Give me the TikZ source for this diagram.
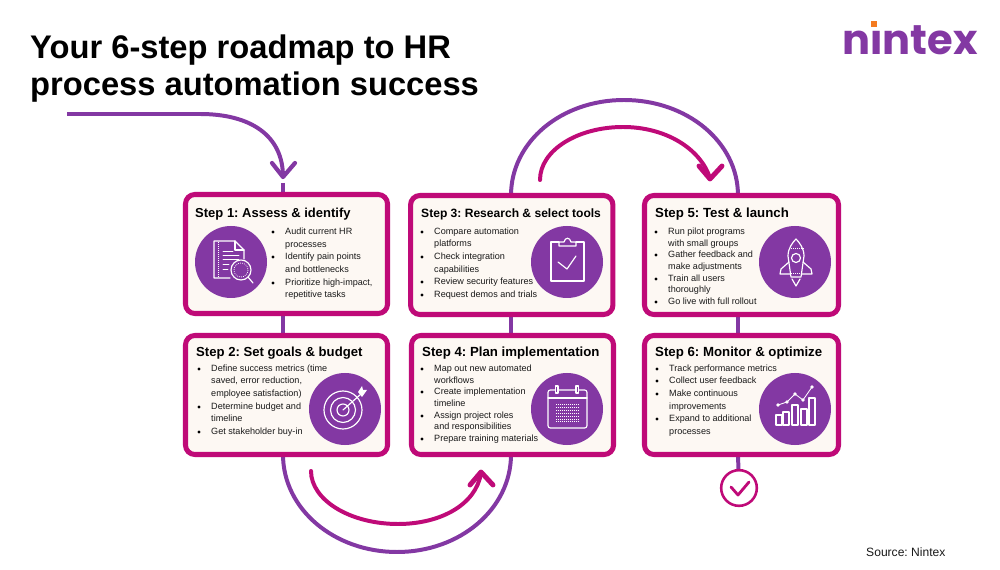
\documentclass[tikz,border=0pt]{standalone}
\usepackage{fontspec}
\setmainfont{Liberation Sans}
\newfontfamily\logofont{Poppins}
\definecolor{purp}{HTML}{8338A3}
\definecolor{mag}{HTML}{BF0A78}
\definecolor{cream}{HTML}{FDF8F3}
\definecolor{ink}{HTML}{1A1A1A}
\definecolor{logodot}{HTML}{F47B20}
\usetikzlibrary{backgrounds,calc}
\tikzset{
 x=0.03cm,y=-0.03cm,
 stepcard/.style={draw=mag,line width=4.3pt,fill=cream,rounded corners=8pt,inner sep=0,outer sep=0,minimum height=3.57cm},
 titleline/.style={anchor=base west,inner sep=0,font=\fontsize{27.9}{30}\selectfont\bfseries,text=black},
 heading/.style={anchor=base west,inner sep=0,font=\fontsize{11.3}{13}\selectfont\bfseries,text=black},
 itemline/.style={anchor=base west,inner sep=0,font=\fontsize{7.75}{10}\selectfont,text=ink},
 bulletdot/.style={circle,fill=black,inner sep=0,minimum size=2.6pt},
 ringdisc/.style={circle,fill=purp,inner sep=0,minimum size=2.16cm},
 pline/.style={draw=purp,line width=3.4pt},
 mline/.style={draw=mag,line width=3.4pt,line cap=round},
 mhead/.style={draw=mag,line width=4.2pt,line cap=round,line join=round},
 icon/.style={draw=white,line width=1pt,line join=round,line cap=round},
 icont/.style={draw=white,line width=0.7pt,line cap=round},
 icdot/.style={draw=white,line width=0.6pt,dash pattern=on 0.7pt off 1pt},
}
\newcommand{\itemsat}[2]{%
  \foreach \yy/\bb/\txt in {#2}{%
    \node[itemline] at (#1,\yy+3) {\txt};
    \ifnum\bb=1 \node[bulletdot] at (#1-12,\yy) {};\fi
  }}
\begin{document}
\frenchspacing
\begin{tikzpicture}
\useasboundingbox (0,0) rectangle (1000,570);
% title
\node[titleline] (t1) at (30,58.5) {Your 6-step roadmap to HR};
\node[titleline] (t2) at (30,95.5) {process automation success};
% logo
\node[anchor=base west,inner sep=0,font=\logofont\fontsize{35.5}{40}\selectfont\bfseries,text=purp] (logo) at (842,55) {nintex};
\fill[white] (868,16) rectangle (884,29.5);
\fill[logodot] (871,21) rectangle (877,27);
\node[anchor=base west,inner sep=0,font=\fontsize{10.3}{12}\selectfont,text=ink] (src) at (866,556) {Source: Nintex};
% cards
\node[stepcard,minimum width=6.06cm] (s1) at (286.5,254) {};
\node[stepcard,minimum width=6.06cm] (s2) at (286.5,395) {};
\node[stepcard,minimum width=6.07cm] (s3) at (511.75,255) {};
\node[stepcard,minimum width=6.06cm] (s4) at (512.5,395) {};
\node[stepcard,minimum width=5.82cm] (s5) at (741.5,255) {};
\node[stepcard,minimum width=5.82cm] (s6) at (741.5,395) {};
% end check
\node[circle,draw=mag,line width=2.2pt,fill=white,minimum size=1.07cm,inner sep=0] (done) at (739,488) {};
\draw[draw=mag,line width=2.4pt,line cap=round,line join=round] (731,487) -- (738,495) -- (749,482);
% named points
\coordinate (start) at (67,114);
\coordinate (tipA) at (283,177);
\coordinate (stubA) at (283,183);
\coordinate (colA) at (283,0);
\coordinate (colB) at (511,0);
\coordinate (colC) at (738,0);
\begin{scope}[on background layer]
\fill[white] (0,0) rectangle (1000,570);
\draw[pline] (start) -- (200,114) .. controls (250,114) and (283,135) .. (tipA);
\draw[pline] (stubA) -- (s1.north -| colA);
\draw[pline] (s1.south -| colA) -- (s2.north -| colA);
\draw[pline] (s3.south -| colB) -- (s4.north -| colB);
\draw[pline] (s5.south -| colC) -- (s6.north -| colC);
\draw[pline] (s2.south -| colA) .. controls (283,509) and (334,552) .. (397,552) .. controls (460,552) and (511,509) .. (s4.south -| colB);
\draw[pline] (s3.north -| colB) .. controls (511,142) and (561,100) .. (624,100) .. controls (687,100) and (738,142) .. (s5.north -| colC);
\draw[pline] (s6.south -| colC) -- (done);
\draw[draw=purp,line width=3.6pt,line cap=round,line join=round] (272,163) -- (tipA) -- (295,163);
\end{scope}
% magenta arrows
\draw[mline] (311,471) .. controls (311,500) and (350,524) .. (398,524) .. controls (440,524) and (476,505) .. (481,473);
\draw[mhead] (470,485) -- (481,472) -- (493,485);
\draw[mline] (540,180) .. controls (540,150) and (578,127) .. (623,127) .. controls (665,127) and (700,148) .. (710,178);
\draw[mhead] (699,166) -- (710,179) -- (722,166);
% headings
\node[heading,font=\fontsize{11.1}{13}\selectfont\bfseries] (h1) at (195,217.5) {Step 1: Assess \& identify};
\node[heading,font=\fontsize{11.2}{13}\selectfont\bfseries] (h2) at (196,356.5) {Step 2: Set goals \& budget};
\node[heading,font=\fontsize{10.3}{13}\selectfont\bfseries] (h3) at (421,217.5) {Step 3: Research \& select tools};
\node[heading] (h4) at (422,356.5) {Step 4: Plan implementation};
\node[heading] (h5) at (655,217.5) {Step 5: Test \& launch};
\node[heading] (h6) at (655,356.5) {Step 6: Monitor \& optimize};
% discs
\node[ringdisc] (c1) at (231,262) {};
\node[ringdisc] (c2) at (345,409) {};
\node[ringdisc] (c3) at (567,262) {};
\node[ringdisc] (c4) at (567,409) {};
\node[ringdisc] (c5) at (795,262) {};
\node[ringdisc] (c6) at (795,409) {};
% bullet text
\itemsat{285}{232/1/Audit current HR,245/0/processes,257/1/Identify pain points,270/0/and bottlenecks,283/1/{Prioritize high-impact,},295/0/repetitive tasks}
\itemsat{211}{369/1/{Define success metrics (time},381/0/{saved, error reduction,},394/0/employee satisfaction),407/1/Determine budget and,419/0/timeline,432/1/Get stakeholder buy-in}
\itemsat{434}{232/1/Compare automation,244/0/platforms,257/1/Check integration,270/0/capabilities,282/1/Review security features,295/1/Request demos and trials}
\itemsat{434}{369/1/Map out new automated,381/0/workflows,392/1/Create implementation,404/0/timeline,416/1/Assign project roles,427/0/and responsibilities,439/1/Prepare training materials}
\itemsat{668}{232/1/Run pilot programs,244/0/with small groups,255/1/Gather feedback and,267/0/make adjustments,279/1/Train all users,290/0/thoroughly,302/1/Go live with full rollout}
\itemsat{669}{369/1/Track performance metrics,381/1/Collect user feedback,394/1/Make continuous,407/0/improvements,419/1/Expand to additional,432/0/processes}
% icon 1: document with magnifier
\begin{scope}[shift={(231,262)}]
\draw[icon] (-1,16) -- (-17,16) -- (-17,-21) -- (4,-21) -- (13,-12) -- (13,-3);
\draw[icon] (4,-21) -- (4,-12) -- (13,-12);
\draw[icdot] (-13,-20) -- (-13,15);
\draw[icont] (-8,-11) -- (2,-11) (-8,-7) -- (8,-7) (-8,-3) -- (8,-3) (-8,2) -- (-2,2) (-8,7) -- (-3,7);
\draw[icon] (10,8) circle (10);
\draw[icdot] (10,8) circle (7);
\draw[icon] (17,15) -- (22,21);
\end{scope}
% icon 2: target
\begin{scope}[shift={(345,409)}]
\draw[icon] (-2,1) circle (19);
\draw[icon] (-2,1) circle (12.5);
\draw[icon] (-2,1) circle (6);
\draw[icon] (-2,1) -- (16,-15);
\fill[white] (13,-17) -- (17,-23) -- (18,-19) -- (22,-19) -- (17,-12) -- cycle;
\end{scope}
% icon 3: clipboard
\begin{scope}[shift={(567,262)}]
\draw[icon] (-8,-20) -- (-16,-20) -- (-16,19) -- (17,19) -- (17,-20) -- (9,-20);
\draw[icon] (-8,-16) -- (-8,-20) -- (-3,-20) .. controls (-2,-25) and (3,-25) .. (4,-20) -- (9,-20) -- (9,-16) -- cycle;
\draw[icon] (-9,0) -- (0,7) -- (9,-6);
\end{scope}
% icon 4: calendar
\begin{scope}[shift={(567,409)}]
\draw[icon,rounded corners=2pt] (-19,-19) rectangle (20,19);
\draw[icon] (-19,-11) -- (20,-11);
\draw[fill=purp,icon] (-11.5,-23) rectangle (-9,-16);
\draw[fill=purp,icon] (9,-23) rectangle (11.5,-16);
\foreach \yy in {-5,-2,1,4,7,10,12}{\draw[icdot] (-11,\yy) -- (12,\yy);}
\end{scope}
% icon 5: rocket
\begin{scope}[shift={(796,262)}]
\draw[icon] (-5,15) -- (-8,-6) .. controls (-8,-14) and (-3,-20) .. (0,-23) .. controls (3,-20) and (8,-14) .. (8,-6) -- (5,15) -- cycle;
\draw[icdot] (-7,-14) -- (7,-14);
\draw[icon] (0,-4) circle (4.5);
\draw[icon] (-7,0) -- (-15,7) -- (-16,12) -- (-6,12);
\draw[icon] (7,0) -- (15,7) -- (16,12) -- (6,12);
\draw[icdot] (-5,11) -- (5,11);
\draw[icon] (-4,17) -- (0,24) -- (4,17);
\end{scope}
% icon 6: chart
\begin{scope}[shift={(795,409)}]
\draw[icon] (-19,16) rectangle (-13,6);
\draw[icon] (-12,16) rectangle (-6,3);
\draw[icon] (-3,16) rectangle (3,-4);
\draw[icon] (6,16) rectangle (12,0);
\draw[icon] (14,16) rectangle (20,-11);
\draw[icont] (-17,-4) -- (-8,-7) -- (0,-15) -- (8,-9) -- (17,-22);
\foreach \px/\py in {-17/-4,-8/-7,0/-15,8/-9,17/-22}{\fill[white] (\px,\py) circle (1.8);}
\end{scope}
\end{tikzpicture}
\end{document}
